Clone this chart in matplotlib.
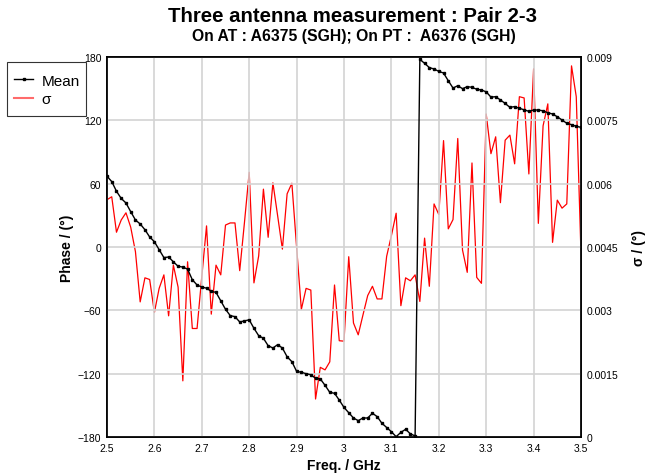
import numpy as np
import matplotlib
matplotlib.use("Agg")
import matplotlib.pyplot as plt
from matplotlib.lines import Line2D
from matplotlib.patches import Rectangle

plt.rcParams['font.family'] = ['Liberation Sans', 'DejaVu Sans']

freq_start = 2.5
freq_step = 0.01

mean_phase = [
    67, 62, 52.8, 46, 41.7, 33.5, 25.6, 21.8, 16.4, 9.5,
    5, -2.5, -10, -9.5, -14, -18.3, -19, -21, -31, -36,
    -38, -39, -42, -43, -51, -59, -65, -66, -71, -70,
    -69, -77, -84, -86.5, -93.5, -95.7, -92.5, -95.7, -104, -108.6,
    -117.8, -118.7, -120, -121, -124.4, -125, -131, -137.7, -138.6, -145,
    -152, -157, -162, -164.5, -162, -162, -157.5, -160.7, -167, -171,
    -175, -179.7, -175.6, -172.7, -177, -179, 177.8, 174, 170, 168.6,
    166.4, 164.8, 157.5, 150.6, 152.8, 150, 151.9, 151.3, 149.4, 148.7,
    147, 142, 142.4, 139.3, 136, 132.3, 133, 131.4, 130, 128.5,
    129.8, 129.8, 129, 127.2, 126, 123.4, 120.3, 117.2, 115.9, 114.3,
    113.4,
]

sigma = [
    0.00562, 0.00569, 0.00485, 0.00514, 0.00531, 0.00497, 0.00439, 0.00320, 0.00377, 0.00373,
    0.00295, 0.00352, 0.00384, 0.00287, 0.00407, 0.00355, 0.00133, 0.00415, 0.00257, 0.00257,
    0.00380, 0.00500, 0.00291, 0.00407, 0.00384, 0.00502, 0.00507, 0.00507, 0.00394, 0.00508,
    0.00627, 0.00365, 0.00429, 0.00587, 0.00473, 0.00602, 0.00524, 0.00445, 0.00576, 0.00601,
    0.00450, 0.00302, 0.00352, 0.00348, 0.00090, 0.00165, 0.00159, 0.00178, 0.00360, 0.00228,
    0.00227, 0.00427, 0.00270, 0.00242, 0.00289, 0.00335, 0.00357, 0.00327, 0.00327, 0.00428,
    0.00477, 0.00530, 0.00311, 0.00377, 0.00370, 0.00384, 0.00321, 0.00471, 0.00357, 0.00552,
    0.00527, 0.00702, 0.00493, 0.00515, 0.00707, 0.00443, 0.00390, 0.00649, 0.00378, 0.00364,
    0.00765, 0.00671, 0.00711, 0.00555, 0.00703, 0.00715, 0.00647, 0.00806, 0.00803, 0.00623,
    0.00872, 0.00506, 0.00737, 0.00789, 0.00461, 0.00561, 0.00542, 0.00552, 0.00879, 0.00806,
    0.00433,
]

freq = freq_start + freq_step * np.arange(len(mean_phase))

x_ticks = [2.5, 2.6, 2.7, 2.8, 2.9, 3.0, 3.1, 3.2, 3.3, 3.4, 3.5]
x_tick_labels = ["2.5", "2.6", "2.7", "2.8", "2.9", "3", "3.1", "3.2", "3.3", "3.4", "3.5"]
phase_ticks = [-180, -120, -60, 0, 60, 120, 180]
sigma_ticks = [0, 0.0015, 0.003, 0.0045, 0.006, 0.0075, 0.009]
sigma_tick_labels = ["0", "0.0015", "0.003", "0.0045", "0.006", "0.0075", "0.009"]

W, H = 645, 477
fig = plt.figure(figsize=(W / 100, H / 100), dpi=100)
ax = fig.add_axes([107 / W, 1 - 438 / H, (581 - 107) / W, (438 - 58) / H])
ax2 = ax.twinx()

ax.set_xlim(2.5, 3.5)
ax.set_ylim(-180, 180)
ax2.set_ylim(0, 0.009)

ax.set_xticks(x_ticks)
ax.set_xticklabels(x_tick_labels)
ax.set_yticks(phase_ticks)
ax2.set_yticks(sigma_ticks)
ax2.set_yticklabels(sigma_tick_labels)

ax.grid(True, color='#d3d3d3', linewidth=1.2)
ax.set_axisbelow(True)

for a in (ax, ax2):
    a.tick_params(length=0, labelsize=7.5, pad=4)
    for s in a.spines.values():
        s.set_linewidth(1.2)
        s.set_color('black')

ax2.plot(freq, sigma, color='#ff0000', linewidth=0.9, zorder=2)
ax.set_zorder(ax2.get_zorder() + 1)
ax.patch.set_visible(False)
ax.plot(freq, mean_phase, color='black', linewidth=1.0, marker='s',
        markersize=1.6, zorder=3)

ax.set_xlabel('Freq. / GHz', fontsize=10, fontweight='bold', labelpad=4)
ax.set_ylabel('Phase / (°)', fontsize=10, fontweight='bold', labelpad=3)
ax2.set_ylabel('σ / (°)', fontsize=10, fontweight='bold', labelpad=10)

fig.text(353 / W, 1 - 16 / H, 'Three antenna measurement : Pair 2-3', ha='center', va='center',
         fontsize=14.7, fontweight='bold')
fig.text(354 / W, 1 - 37 / H, 'On AT : A6375 (SGH); On PT :  A6376 (SGH)', ha='center', va='center',
         fontsize=11.3, fontweight='bold')

# legend
h_mean = Line2D([], [], color='black', linewidth=1.0, marker='s', markersize=1.6)
h_sigma = Line2D([], [], color='#ff6b6b', linewidth=1.5)
fig.patches.append(Rectangle((7 / W, 1 - 116.5 / H), 79 / W, 54 / H, transform=fig.transFigure,
                             facecolor='white', edgecolor='#333333', linewidth=0.8))
leg = fig.legend(handles=[h_mean, h_sigma], labels=['Mean', 'σ'], loc='upper left',
                 bbox_to_anchor=(14 / W, 1 - 74.5 / H), fontsize=11, frameon=False,
                 handlelength=1.25, handletextpad=0.55, borderpad=0, borderaxespad=0,
                 labelspacing=0.3)

fig.savefig('out.png', dpi=100)
